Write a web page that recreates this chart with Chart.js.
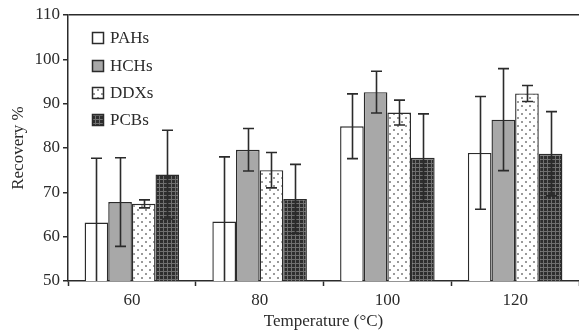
<!DOCTYPE html>
<html>
<head>
<meta charset="utf-8">
<script src="https://cdn.jsdelivr.net/npm/chart.js@4.4.1/dist/chart.umd.min.js"></script>
<style>
  html, body { margin: 0; padding: 0; background: #fff; }
  canvas { display: block; }
</style>
</head>
<body>
<canvas id="chart" width="579" height="331"></canvas>
<script>
// Extraction temperature groups
const temperatures = ['60', '80', '100', '120'];
const seriesNames = ['PAHs', 'HCHs', 'DDXs', 'PCBs'];

// Mean recovery (%) per compound class
const pahsRecovery = [63.2, 63.4, 84.9, 78.9];
const hchsRecovery = [67.8, 79.6, 92.6, 86.4];
const ddxsRecovery = [67.4, 75.0, 88.0, 92.3];
const pcbsRecovery = [74.0, 68.5, 77.8, 78.7];

// Standard deviations
const pahsError = [14.5, 14.6, 7.3, 12.7];
const hchsError = [10.0, 4.8, 4.7, 11.5];
const ddxsError = [0.9, 4.0, 2.8, 1.8];
const pcbsError = [10.0, 7.8, 9.9, 9.5];

const yTickValues = [50, 60, 70, 80, 90, 100, 110];

const INK = '#2b2b2b';

// Fill patterns for the four series
function makePattern(size, draw) {
  const c = document.createElement('canvas');
  c.width = size; c.height = size;
  const g = c.getContext('2d');
  draw(g, size);
  return document.createElement('canvas').getContext('2d').createPattern(c, 'repeat');
}
const dotPattern = makePattern(8, (g, s) => {
  g.fillStyle = '#ffffff'; g.fillRect(0, 0, s, s);
  g.fillStyle = '#9a9a9a';
  g.fillRect(1, 1, 2, 2);
  g.fillRect(5, 5, 2, 2);
});
const gridPattern = makePattern(4, (g, s) => {
  g.fillStyle = '#2e2e2e'; g.fillRect(0, 0, s, s);
  g.fillStyle = '#707070';
  g.fillRect(3, 0, 1, s);
  g.fillRect(0, 3, s, 1);
});
const fills = ['#ffffff', '#a8a8a8', dotPattern, gridPattern];

const values = [pahsRecovery, hchsRecovery, ddxsRecovery, pcbsRecovery];
const errors = [pahsError, hchsError, ddxsError, pcbsError];

Chart.defaults.font.family = "'Liberation Serif', 'Times New Roman', serif";
Chart.defaults.font.size = 17;
Chart.defaults.color = INK;

// Vertical error bars with caps, positioned through the chart scales
const errorBars = {
  id: 'errorBars',
  afterDatasetsDraw(chart) {
    const { ctx, chartArea, scales: { y } } = chart;
    ctx.save();
    ctx.beginPath();
    ctx.rect(chartArea.left, chartArea.top, chartArea.right - chartArea.left, chartArea.bottom - chartArea.top);
    ctx.clip();
    ctx.strokeStyle = INK;
    ctx.lineWidth = 1.6;
    chart.data.datasets.forEach((ds, i) => {
      const meta = chart.getDatasetMeta(i);
      meta.data.forEach((bar, j) => {
        const v = ds.data[j], e = ds.errors[j];
        const top = y.getPixelForValue(v + e);
        const bot = y.getPixelForValue(v - e);
        const x = Math.round(bar.x) + 0.5;
        const half = 5.5;
        ctx.beginPath();
        ctx.moveTo(x, top); ctx.lineTo(x, bot);
        ctx.moveTo(x - half, top); ctx.lineTo(x + half, top);
        ctx.moveTo(x - half, bot); ctx.lineTo(x + half, bot);
        ctx.stroke();
      });
    });
    ctx.restore();
  }
};

// Legend stacked inside the upper-left corner of the plot
const insetLegend = {
  id: 'insetLegend',
  afterDraw(chart) {
    const { ctx } = chart;
    const rows = [38, 66, 93, 120];
    ctx.save();
    ctx.font = "17px 'Liberation Serif', 'Times New Roman', serif";
    ctx.textBaseline = 'middle';
    ctx.textAlign = 'left';
    chart.data.datasets.forEach((ds, i) => {
      const cy = rows[i];
      ctx.fillStyle = ds.backgroundColor;
      ctx.fillRect(92, cy - 6, 12, 12);
      ctx.strokeStyle = INK;
      ctx.lineWidth = 1.5;
      ctx.strokeRect(92.5, cy - 5.5, 11, 11);
      ctx.fillStyle = INK;
      ctx.fillText(ds.label, 110, cy + 1);
    });
    ctx.restore();
  }
};

new Chart(document.getElementById('chart'), {
  type: 'bar',
  data: {
    labels: temperatures,
    datasets: seriesNames.map((name, i) => ({
      label: name,
      data: values[i],
      errors: errors[i],
      backgroundColor: fills[i],
      borderColor: INK,
      borderWidth: 1.4,
      barPercentage: 1,
      categoryPercentage: 0.74
    }))
  },
  options: {
    responsive: false,
    animation: false,
    events: [],
    layout: { padding: { top: 15, right: 0, left: 0, bottom: 0 } },
    plugins: {
      legend: { display: false },
      tooltip: { enabled: false }
    },
    scales: {
      x: {
        afterFit(scale) { scale.height = 50; },
        border: { display: true, color: INK, width: 1.5 },
        grid: {
          offset: true,
          drawOnChartArea: false,
          drawTicks: true,
          tickLength: 5,
          tickColor: INK,
          tickWidth: 1.5
        },
        ticks: { padding: 4, color: INK, font: { size: 17 } },
        title: {
          display: true,
          text: 'Temperature (°C)',
          color: INK,
          font: { size: 17, lineHeight: 1 },
          padding: { top: 0, bottom: 1 }
        }
      },
      y: {
        min: 50,
        max: 110,
        afterFit(scale) { scale.width = 68; },
        afterBuildTicks(scale) { scale.ticks = yTickValues.map(v => ({ value: v })); },
        border: { display: true, color: INK, width: 1.5 },
        grid: {
          color: (c) => (c.tick && c.tick.value === 110 ? INK : 'rgba(0,0,0,0)'),
          lineWidth: 1.5,
          drawTicks: true,
          tickLength: 5,
          tickColor: INK,
          tickWidth: 1.5
        },
        ticks: { padding: 3, color: INK, font: { size: 17 } },
        title: {
          display: true,
          text: 'Recovery %',
          color: INK,
          font: { size: 17, lineHeight: 1.2 },
          padding: { top: 8, bottom: 0 }
        }
      }
    }
  },
  plugins: [errorBars, insetLegend]
});
</script>
</body>
</html>
